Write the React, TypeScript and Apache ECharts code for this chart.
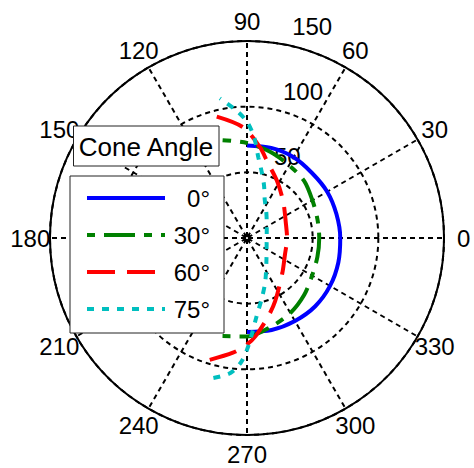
import React, { useEffect, useRef } from 'react';
import * as echarts from 'echarts';

// Axis ticks
const angleTicks = [0, 30, 60, 90, 120, 150, 180, 210, 240, 270, 300, 330];
const radiusTicks = [50, 100, 150];
const radiusMax = 150;

// Legend entries (cone angles)
const coneAngles = ['0°', '30°', '60°', '75°'];

// Pattern samples: angle (deg) and radius for each cone angle
const theta0 = [-90, -75, -60, -45, -30, -15, 0, 15, 30, 45, 60, 75, 90];
const r0 = [71.5, 72.5, 73, 73.5, 73, 72, 71, 70.5, 70.5, 70, 71, 71, 70.5];

const theta30 = [-104, -90, -75, -60, -45, -30, -15, 0, 15, 30, 45, 60, 75, 90, 104];
const r30 = [77, 75, 70, 66, 61.5, 57.2, 55.5, 55, 55.5, 57.5, 61.5, 64, 68, 72.3, 76.8];

const theta60 = [-107, -97, -90, -85, -75, -66, -45, -24, 0, 19, 45, 62, 75, 82, 92, 104];
const r60 = [97, 88, 81, 75, 62, 52.7, 38, 31.6, 30.5, 31.4, 39, 48.9, 60, 70, 84.3, 95.2];

const theta75 = [-103.5, -97, -92.5, -89, -83, -76, -67, -45, -19, 0, 20, 40, 56, 65, 72, 77, 82, 86, 90, 95, 101];
const r75 = [109.6, 103.6, 94, 81, 60, 47, 35.7, 21, 15.8, 15, 16, 19.6, 26, 32, 42, 50.7, 62, 77, 88.5, 97.8, 108.3];

const FONT = '"Liberation Sans", Arial, Helvetica, sans-serif';
const CX = 247;
const CY = 238;
const R = 197;

const toPolar = (rs: number[], ts: number[]) =>
  rs.map((r, i) => [r, (ts[i] + 360) % 360]);

export default function App() {
  const ref = useRef<HTMLDivElement>(null);

  useEffect(() => {
    if (!ref.current) return;
    const chart = echarts.init(ref.current, null, { renderer: 'svg' });

    const deg = Math.PI / 180;

    // Angle labels centred on a circle slightly outside the rim
    const angleLabels = angleTicks.map((a) => ({
      type: 'text',
      z: 1,
      style: {
        text: String(a),
        x: CX + R * 1.1 * Math.cos(a * deg),
        y: CY - R * 1.1 * Math.sin(a * deg),
        align: 'center',
        verticalAlign: 'middle',
        fontSize: 24,
        fontFamily: FONT,
        fill: '#000',
      },
    }));

    // Radius labels placed along the 82 degree direction
    const radiusLabels = radiusTicks.map((v) => {
      const rp = ((v + radiusMax * 0.1) / radiusMax) * R;
      return {
        type: 'text',
        z: 1,
        style: {
          text: String(v),
          x: CX + rp * Math.cos(82 * deg) + 15,
          y: CY - rp * Math.sin(82 * deg) + 3,
          align: 'left',
          verticalAlign: 'middle',
          fontSize: 24,
          fontFamily: FONT,
          fill: '#000',
        },
      };
    });

    const coneBox = {
      type: 'group',
      z: 10,
      children: [
        {
          type: 'rect',
          z: 10,
          shape: { x: 73.5, y: 126, width: 145.5, height: 40 },
          style: { fill: '#fff', stroke: '#222', lineWidth: 1 },
        },
        {
          type: 'text',
          z: 11,
          style: {
            text: 'Cone Angle',
            x: 146,
            y: 146.5,
            align: 'center',
            verticalAlign: 'middle',
            fontSize: 26,
            fontFamily: FONT,
            fill: '#000',
          },
        },
      ],
    };

    const common = {
      type: 'line',
      coordinateSystem: 'polar',
      symbol: 'none',
      smooth: 0.3,
      z: 3,
    };

    const gridDots = { color: '#000', width: 2, type: [5, 4] };

    chart.setOption({
      animation: false,
      backgroundColor: '#fff',
      polar: { center: [CX, CY], radius: R },
      angleAxis: {
        type: 'value',
        min: 0,
        max: 360,
        interval: 30,
        startAngle: 0,
        clockwise: false,
        axisLine: { show: true, lineStyle: { color: '#000', width: 2 } },
        axisTick: { show: false },
        axisLabel: { show: false },
        splitLine: { show: true, lineStyle: { ...gridDots, dashOffset: 7 } },
      },
      radiusAxis: {
        type: 'value',
        min: 0,
        max: radiusMax,
        interval: 50,
        axisLine: { show: false },
        axisTick: { show: false },
        axisLabel: { show: false },
        splitLine: { show: true, lineStyle: gridDots },
      },
      legend: {
        orient: 'vertical',
        left: 70,
        top: 176,
        itemWidth: 78,
        itemHeight: 20,
        itemGap: 13,
        padding: [10, 14, 12, 15],
        backgroundColor: '#fff',
        borderColor: '#222',
        borderWidth: 1,
        z: 5,
        itemStyle: { opacity: 0 },
        lineStyle: { width: 4 },
        formatter: (n: string) => `{t|${n}}`,
        textStyle: {
          rich: {
            t: { width: 40, align: 'right', fontSize: 24, fontFamily: FONT, color: '#000' },
          },
        },
        data: coneAngles,
      },
      graphic: [...angleLabels, ...radiusLabels, coneBox],
      series: [
        {
          ...common,
          name: coneAngles[0],
          data: toPolar(r0, theta0),
          lineStyle: { color: '#0000ff', width: 4, type: 'solid' },
          itemStyle: { color: '#0000ff' },
        },
        {
          ...common,
          name: coneAngles[1],
          data: toPolar(r30, theta30),
          lineStyle: { color: '#008000', width: 4, type: [31, 9, 8, 9], dashOffset: 40 },
          itemStyle: { color: '#008000' },
        },
        {
          ...common,
          name: coneAngles[2],
          data: toPolar(r60, theta60),
          lineStyle: { color: '#ff0000', width: 4, type: [28, 12] },
          itemStyle: { color: '#ff0000' },
        },
        {
          ...common,
          name: coneAngles[3],
          data: toPolar(r75, theta75),
          lineStyle: { color: '#00bfbf', width: 4, type: [7, 8] },
          itemStyle: { color: '#00bfbf' },
        },
      ],
    });

    return () => chart.dispose();
  }, []);

  return (
    <div
      ref={ref}
      style={{ position: 'absolute', left: 0, top: 0, width: 474, height: 468 }}
    />
  );
}
